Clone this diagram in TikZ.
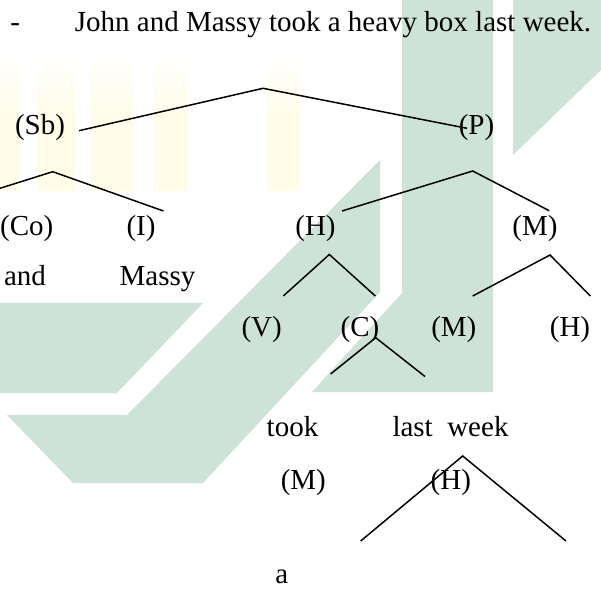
\documentclass[tikz,border=0pt]{standalone}
\usepackage{fontspec}
\setmainfont{Liberation Serif}
\usetikzlibrary{positioning}
\definecolor{wmgreen}{RGB}{206,227,216}
\definecolor{wmyellow}{RGB}{255,252,231}

\begin{document}
\begin{tikzpicture}[x=1pt,y=-1pt,font=\fontsize{29}{34}\selectfont,
  lbl/.style={inner sep=0pt,anchor=base},
  stripe/.style={top color=white,bottom color=wmyellow,middle color=wmyellow},
  branch/.style={line width=1.5pt}]
\useasboundingbox (0,0) rectangle (601,594);
\shade[stripe] (0,50) rectangle (20,190);
\shade[stripe] (37,50) rectangle (75,190);
\shade[stripe] (90,50) rectangle (133,190);
\shade[stripe] (153,50) rectangle (187,190);
\shade[stripe] (267,50) rectangle (300,190);
\fill[wmgreen] (402,0) -- (493,0) -- (493,392) -- (312,392) -- (402,293) -- cycle;
\fill[wmgreen] (380,160) -- (380,292) -- (203,483) -- (73,483) -- (7,415) -- (127,415) -- cycle;
\fill[wmgreen] (0,303) -- (203,303) -- (117,393) -- (0,393) -- cycle;
\fill[wmgreen] (513,0) -- (601,0) -- (601,70) -- (513,155) -- cycle;
\node[lbl] (n0) at (15.3,31.7) {-};
\node[lbl,anchor=base west] (n1) at (74.7,31.7) {John and Massy took a heavy box last week.};
\node[lbl] (n2) at (40,134) {(Sb)};
\node[lbl] (n3) at (476.5,134) {(P)};
\node[lbl] (n4) at (26.8,235.5) {(Co)};
\node[lbl] (n5) at (141,235.5) {(I)};
\node[lbl] (n6) at (315.5,235.5) {(H)};
\node[lbl] (n7) at (535,235.5) {(M)};
\node[lbl] (n8) at (25,285) {and};
\node[lbl] (n9) at (157.5,285) {Massy};
\node[lbl] (n10) at (261.7,336.7) {(V)};
\node[lbl] (n11) at (360,336.7) {(C)};
\node[lbl] (n12) at (453.8,336.7) {(M)};
\node[lbl] (n13) at (570,336.7) {(H)};
\node[lbl] (n14) at (292.5,436.7) {took};
\node[lbl] (n15) at (450.5,436.7) {last~~week};
\node[lbl] (n16) at (303.3,489) {(M)};
\node[lbl] (n17) at (450.8,489) {(H)};
\node[lbl] (n18) at (281.7,583) {a};
\coordinate (t0) at (263,88.3);
\coordinate (e0) at (79,130.7);
\coordinate (e1) at (467,128.3);
\coordinate (t1) at (52.7,171.7);
\coordinate (e2) at (0,188.3);
\coordinate (e3) at (163.5,211);
\coordinate (t2) at (472.7,171);
\coordinate (e4) at (342,211);
\coordinate (e5) at (549.2,210.7);
\coordinate (t3) at (329.3,254.5);
\coordinate (e6) at (283.3,296);
\coordinate (e7) at (375.3,296);
\coordinate (t4) at (550,255);
\coordinate (e8) at (472.7,296);
\coordinate (e9) at (590.3,296);
\coordinate (t5) at (375.7,337.7);
\coordinate (e10) at (330.6,374);
\coordinate (e11) at (425,376.5);
\coordinate (t6) at (462.7,456);
\coordinate (e12) at (360.7,541);
\coordinate (e13) at (566,541);
\draw[branch] (e0) -- (t0) -- (e1);
\draw[branch] (e2) -- (t1) -- (e3);
\draw[branch] (e4) -- (t2) -- (e5);
\draw[branch] (e6) -- (t3) -- (e7);
\draw[branch] (e8) -- (t4) -- (e9);
\draw[branch] (e10) -- (t5) -- (e11);
\draw[branch] (e12) -- (t6) -- (e13);
\end{tikzpicture}
\end{document}
